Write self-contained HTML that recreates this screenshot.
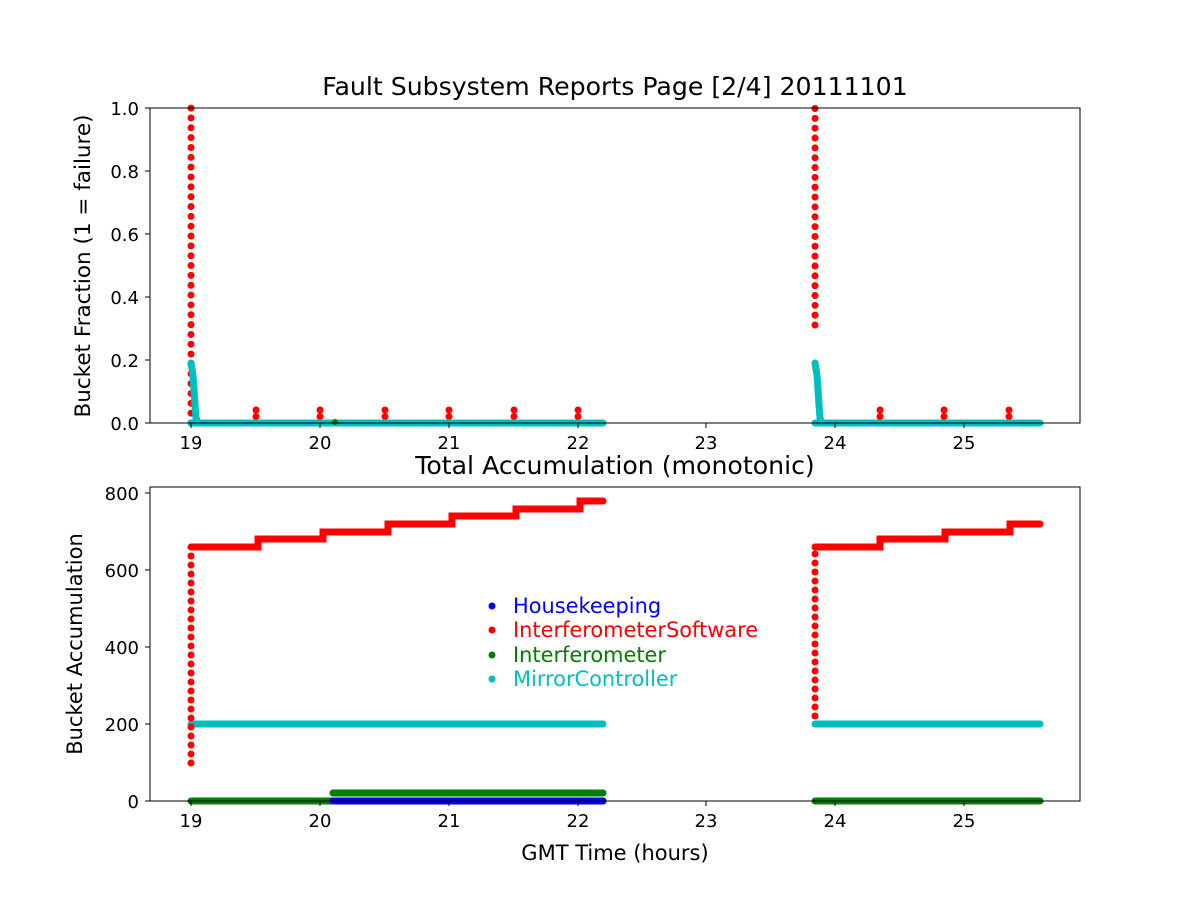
<!DOCTYPE html>
<html><head><meta charset="utf-8"><style>body{margin:0;background:#fff}svg{display:block}text{font-family:"DejaVu Sans","Liberation Sans",sans-serif}</style></head><body>
<svg width="1200" height="900" viewBox="0 0 1200 900" xmlns="http://www.w3.org/2000/svg">
<rect width="1200" height="900" fill="#fff"/>
<text x="615" y="95" font-size="25.2" text-anchor="middle">Fault Subsystem Reports Page [2/4] 20111101</text>
<g stroke-linecap="round">
<line x1="191" y1="423" x2="191" y2="108" stroke="red" stroke-width="7" stroke-dasharray="0 9.84"/>
<line x1="815" y1="325" x2="815" y2="108" stroke="red" stroke-width="7" stroke-dasharray="0 9.84"/>
<g stroke="red" stroke-width="7">
<line x1="256" y1="410" x2="256" y2="417" stroke-dasharray="0 6.5"/>
<line x1="320" y1="410" x2="320" y2="417" stroke-dasharray="0 6.5"/>
<line x1="385" y1="410" x2="385" y2="417" stroke-dasharray="0 6.5"/>
<line x1="449" y1="410" x2="449" y2="417" stroke-dasharray="0 6.5"/>
<line x1="514" y1="410" x2="514" y2="417" stroke-dasharray="0 6.5"/>
<line x1="578" y1="410" x2="578" y2="417" stroke-dasharray="0 6.5"/>
<line x1="880" y1="410" x2="880" y2="417" stroke-dasharray="0 6.5"/>
<line x1="944" y1="410" x2="944" y2="417" stroke-dasharray="0 6.5"/>
<line x1="1009" y1="410" x2="1009" y2="417" stroke-dasharray="0 6.5"/>
</g>
<g stroke="#00bfbf" stroke-width="7">
<line x1="191" y1="423" x2="603" y2="423"/>
<line x1="815" y1="423" x2="1040" y2="423"/>
<polyline points="191,363 193,375 194,390 195,405 196,418 198,423" fill="none"/>
<polyline points="815,363 817,375 818,390 819,405 820,418 822,423" fill="none"/>
</g>
<line x1="335" y1="422" x2="335" y2="422" stroke="green" stroke-width="6"/>
</g>
<rect x="150" y="108" width="930" height="315" fill="none" stroke="#000" stroke-width="1"/>
<g stroke="#000">
<line x1="191" y1="423" x2="191" y2="428"/><line x1="320" y1="423" x2="320" y2="428"/><line x1="449" y1="423" x2="449" y2="428"/><line x1="578" y1="423" x2="578" y2="428"/><line x1="706" y1="423" x2="706" y2="428"/><line x1="835" y1="423" x2="835" y2="428"/><line x1="964" y1="423" x2="964" y2="428"/>
<line x1="145" y1="423" x2="150" y2="423"/><line x1="145" y1="360" x2="150" y2="360"/><line x1="145" y1="297" x2="150" y2="297"/><line x1="145" y1="234" x2="150" y2="234"/><line x1="145" y1="171" x2="150" y2="171"/><line x1="145" y1="108" x2="150" y2="108"/>
</g>
<g font-size="18" text-anchor="middle">
<text x="191" y="449">19</text><text x="320" y="449">20</text><text x="449" y="449">21</text><text x="578" y="449">22</text><text x="706" y="449">23</text><text x="835" y="449">24</text><text x="964" y="449">25</text>
</g>
<g font-size="18" text-anchor="end">
<text x="139" y="430">0.0</text><text x="139" y="367">0.2</text><text x="139" y="304">0.4</text><text x="139" y="241">0.6</text><text x="139" y="178">0.8</text><text x="139" y="115">1.0</text>
</g>
<text transform="translate(90,266) rotate(-90)" font-size="21.5" text-anchor="middle">Bucket Fraction (1 = failure)</text>

<text x="615" y="474" font-size="25.2" text-anchor="middle">Total Accumulation (monotonic)</text>
<g stroke-linecap="round" stroke-width="7" fill="none">
<line x1="191" y1="801" x2="603" y2="801" stroke="green"/>
<line x1="333" y1="801" x2="603" y2="801" stroke="blue"/>
<line x1="333" y1="793" x2="603" y2="793" stroke="green"/>
<line x1="815" y1="801" x2="1040" y2="801" stroke="green"/>
<line x1="191" y1="724" x2="603" y2="724" stroke="#00bfbf"/>
<line x1="815" y1="724" x2="1040" y2="724" stroke="#00bfbf"/>
<line x1="191" y1="763" x2="191" y2="547" stroke="red" stroke-dasharray="0 9"/>
<line x1="815" y1="716" x2="815" y2="547" stroke="red" stroke-dasharray="0 9"/>
<polyline stroke="red" points="191,547 258,547 258,539 323,539 323,532 388,532 388,524 452,524 452,516 516,516 516,509 580,509 580,501 603,501"/>
<polyline stroke="red" points="815,547 880,547 880,539 945,539 945,532 1010,532 1010,524 1040,524"/>
</g>
<rect x="150" y="487" width="930" height="314" fill="none" stroke="#000" stroke-width="1"/>
<g stroke="#000">
<line x1="191" y1="801" x2="191" y2="806"/><line x1="320" y1="801" x2="320" y2="806"/><line x1="449" y1="801" x2="449" y2="806"/><line x1="578" y1="801" x2="578" y2="806"/><line x1="706" y1="801" x2="706" y2="806"/><line x1="835" y1="801" x2="835" y2="806"/><line x1="964" y1="801" x2="964" y2="806"/>
<line x1="145" y1="801" x2="150" y2="801"/><line x1="145" y1="724" x2="150" y2="724"/><line x1="145" y1="647" x2="150" y2="647"/><line x1="145" y1="570" x2="150" y2="570"/><line x1="145" y1="493" x2="150" y2="493"/>
</g>
<g font-size="18" text-anchor="middle">
<text x="191" y="827">19</text><text x="320" y="827">20</text><text x="449" y="827">21</text><text x="578" y="827">22</text><text x="706" y="827">23</text><text x="835" y="827">24</text><text x="964" y="827">25</text>
</g>
<g font-size="18" text-anchor="end">
<text x="139" y="808">0</text><text x="139" y="731">200</text><text x="139" y="654">400</text><text x="139" y="577">600</text><text x="139" y="500">800</text>
</g>
<text transform="translate(82,644) rotate(-90)" font-size="21" text-anchor="middle">Bucket Accumulation</text>
<text x="615" y="860" font-size="21" text-anchor="middle">GMT Time (hours)</text>
<g font-size="20.9">
<circle cx="492" cy="606" r="3.5" fill="blue"/><text x="513" y="613" fill="blue">Housekeeping</text>
<circle cx="492" cy="630" r="3.5" fill="red"/><text x="513" y="637" fill="red">InterferometerSoftware</text>
<circle cx="492" cy="655" r="3.5" fill="green"/><text x="513" y="662" fill="green">Interferometer</text>
<circle cx="492" cy="679" r="3.5" fill="#00bfbf"/><text x="513" y="686" fill="#00bfbf">MirrorController</text>
</g>
</svg>
</body></html>
